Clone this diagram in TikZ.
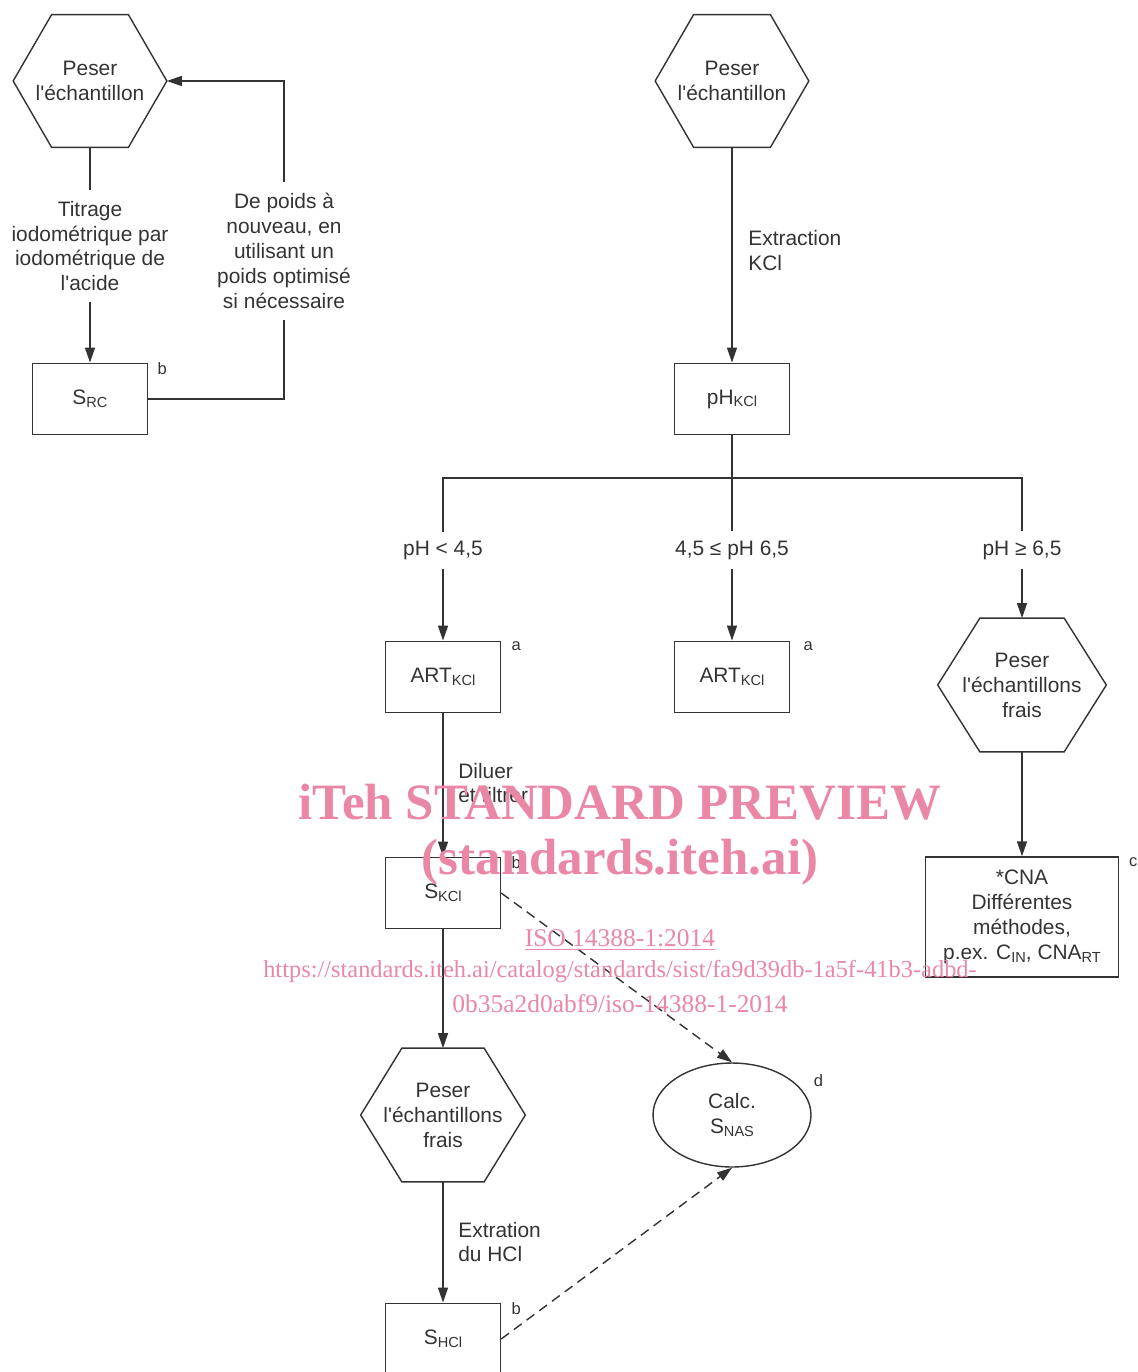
\documentclass[tikz,border=0pt]{standalone}
\usepackage{fontspec}
\setmainfont{Liberation Sans}[Ligatures=TeXOff]
\newfontfamily\stampfont{Liberation Serif}
\usetikzlibrary{arrows.meta, calc, shapes.geometric}

\definecolor{ink}{RGB}{51,51,51}
\definecolor{stampink}{RGB}{234,135,165}

% small lowered index, as in S_RC
\newcommand\lowidx[1]{\raisebox{-1.6pt}{\fontsize{8.3}{9}\selectfont #1}}
% hexagon outline round a (undrawn) node
\newcommand\hexframe[1]{%
  \draw[outline] (#1.west) -- ($(#1.north west)!0.25!(#1.north east)$)
    -- ($(#1.north west)!0.75!(#1.north east)$) -- (#1.east)
    -- ($(#1.south west)!0.75!(#1.south east)$)
    -- ($(#1.south west)!0.25!(#1.south east)$) -- cycle;}

\begin{document}
\begin{tikzpicture}[
  x = 0.02cm, y = -0.02cm,
  every node/.style = {font=\fontsize{11.9}{14.2}\selectfont, text=ink},
  outline/.style = {draw=ink, line width=0.8pt},
  proc/.style = {
    outline, rectangle, minimum width=2.3cm, minimum height=1.43cm,
    inner sep=0pt, align=center
  },
  weigh/.style = {rectangle, inner sep=0pt, align=center},
  calcbox/.style = {
    outline, ellipse, minimum width=3.16cm, minimum height=2.08cm,
    inner sep=0pt, align=center
  },
  note/.style = {align=center, inner xsep=0pt, inner ysep=6pt},
  side/.style = {align=left, anchor=west, inner sep=0pt},
  flag/.style = {font=\fontsize{9.4}{11}\selectfont, inner sep=0pt},
  flow/.style = {outline, -{Triangle[length=3mm, width=2mm]}},
  link/.style = {flow, dash pattern=on 5.5pt off 3.5pt},
  stamphead/.style = {text=stampink, inner sep=0pt,
    font=\stampfont\bfseries\fontsize{29}{34}\selectfont},
  stampline/.style = {text=stampink, inner sep=0pt,
    font=\stampfont\fontsize{14.5}{18}\selectfont}
]
\useasboundingbox (0,0) rectangle (1138,1372);

% left: repeated weighing
\node[weigh, minimum width=3.06cm, minimum height=2.64cm] (hexL) at (90,81)
  {Peser\\l'échantillon};
\node[proc] (src) at (90,399) {S\lowidx{RC}};
\node[note] (titr) at (90,246)
  {Titrage\\iodométrique par\\iodométrique de\\l'acide};
\node[note] (again) at (284,251)
  {De poids à\\nouveau, en\\utilisant un\\poids optimisé\\si nécessaire};
\node[flag] (srcb) at ([shift={(14,6)}]src.north east) {b};

\draw[outline] (hexL.south) -- (titr.north);
\draw[flow] (titr.south) -- (src.north);
\draw[outline] (src.east) -| (again.south);
\draw[flow] (again.north) |- (hexL.east);

% right: KCl extraction
\node[weigh, minimum width=3.06cm, minimum height=2.64cm] (hexR) at (732,81)
  {Peser\\l'échantillon};
\node[side] (kcl) at (748,251) {Extraction\\KCl};
\node[proc] (ph) at (732,399) {pH\lowidx{KCl}};
\draw[flow] (hexR.south) -- (ph.north);

\coordinate (fork) at (732,478);
\node[note, inner ysep=5pt] (lt) at (443,550) {pH < 4,5};
\node[note, inner ysep=5pt] (mid) at (732,550) {4,5 ≤ pH 6,5};
\node[note, inner ysep=5pt] (ge) at (1022,550) {pH ≥ 6,5};
\draw[outline] (ph.south) -- (mid.north);
\draw[outline] (lt.north) |- (fork) -| (ge.north);

\node[proc] (artA) at (443,677) {ART\lowidx{KCl}};
\node[proc] (artB) at (732,677) {ART\lowidx{KCl}};
\node[weigh, minimum width=3.36cm, minimum height=2.66cm] (hexF) at (1022,685)
  {Peser\\l'échantillons\\frais};
\node[proc, minimum width=3.86cm, minimum height=2.4cm] (cna) at (1022,917)
  {*CNA\\Différentes\\méthodes,\\p.ex. C\lowidx{IN}, CNA\lowidx{RT}};
\node[flag] (artAa) at ([shift={(15,6)}]artA.north east) {a};
\node[flag] (artBa) at ([shift={(18,6)}]artB.north east) {a};
\node[flag] (cnac) at ([shift={(14,6)}]cna.north east) {c};

\draw[flow] (lt.south) -- (artA.north);
\draw[flow] (mid.south) -- (artB.north);
\draw[flow] (ge.south) -- (hexF.north);
\draw[flow] (hexF.south) -- (cna.north);

% acid branch
\node[side] (dil) at (458,783) {Diluer\\et filtrer};
\node[proc] (skcl) at (443,893) {S\lowidx{KCl}};
\node[weigh, minimum width=3.28cm, minimum height=2.66cm] (hexB) at (443,1115)
  {Peser\\l'échantillons\\frais};
\node[calcbox] (snas) at (732,1115) {Calc.\\S\lowidx{NAS}};
\node[side] (hcl) at (458,1242) {Extration\\du HCl};
\node[proc] (shcl) at (443,1339) {S\lowidx{HCl}};
\node[flag] (skclb) at ([shift={(15,6)}]skcl.north east) {b};
\node[flag] (shclb) at ([shift={(15,6)}]shcl.north east) {b};
\node[flag] (snasd) at ([shift={(30,3)}]snas.north east) {d};

\draw[flow] (artA.south) -- (skcl.north);
\draw[flow] (skcl.south) -- (hexB.north);
\draw[flow] (hexB.south) -- (shcl.north);
\draw[link] (skcl.east) -- (snas.north);
\draw[link] (shcl.east) -- (snas.south);

\hexframe{hexL}
\hexframe{hexR}
\hexframe{hexF}
\hexframe{hexB}

% preview stamp
\node[stamphead] (wm1) at (620,802) {iTeh STANDARD PREVIEW};
\node[stamphead] (wm2) at (620,862) {(standards.iteh.ai)};
\node[stampline] (wm3) at (620,940) {\underline{ISO 14388-1:2014}};
\node[stampline, font=\stampfont\fontsize{13.9}{18}\selectfont] (wm4) at (620,972)
  {https://standards.iteh.ai/catalog/standards/sist/fa9d39db-1a5f-41b3-adbd-};
\node[stampline] (wm5) at (620,1004) {0b35a2d0abf9/iso-14388-1-2014};

\end{tikzpicture}
\end{document}
